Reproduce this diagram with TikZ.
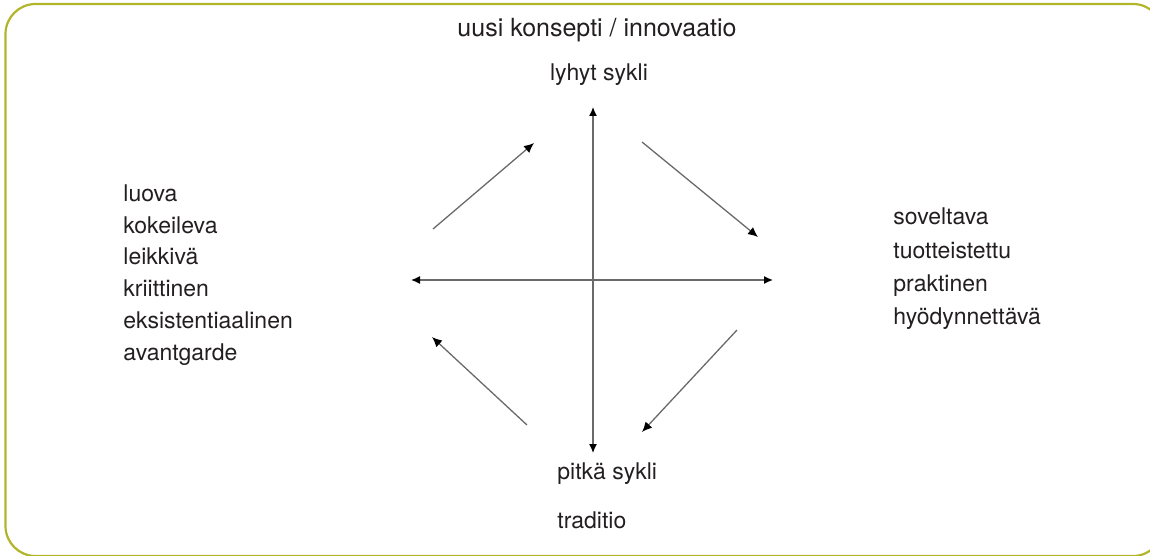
\documentclass[tikz,border=0pt]{standalone}
\usepackage{fontspec}
\setmainfont{TeX Gyre Heros}
\usepackage{xcolor}
\usetikzlibrary{arrows.meta, positioning}
\definecolor{cyFrame}{HTML}{B2B52A}
\definecolor{cyLine}{HTML}{6A6A6A}
\definecolor{cyText}{HTML}{231F20}
\tikzset{
  cyframe/.style={draw=cyFrame, line width=1.1pt, rounded corners=15pt},
  cylabel/.style={text=cyText, inner sep=0pt, font=\fontsize{11.5}{16}\selectfont},
  cylist/.style={cylabel, align=left, anchor=west},
  cyaxis/.style={draw=cyLine, line width=0.65pt,
    {Latex[length=4.5pt,width=4pt,color=black]}-{Latex[length=4.5pt,width=4pt,color=black]}},
  cyflow/.style={draw=cyLine, line width=0.65pt, -{Latex[length=5pt,width=4.5pt,color=black]}},
}

\begin{document}
\begin{tikzpicture}[x=0.5pt, y=-0.5pt]
\useasboundingbox (0,0) rectangle (1150,556);
\draw[cyframe] (5.5,4) rectangle (1163,556);

\node[cylabel, font=\fontsize{12.5}{16}\selectfont] (innov) at (597,30) {uusi konsepti / innovaatio};
\node[cylabel] (short) at (599,75) {lyhyt sykli};
\node[cylabel, anchor=west] (long) at (557,474) {pitkä sykli};
\node[cylabel, anchor=west] (trad) at (557,520) {traditio};
\node[cylist, font=\fontsize{11.5}{15.9}\selectfont] (art) at (123,275)
  {luova\\ kokeileva\\ leikkivä\\ kriittinen\\ eksistentiaalinen\\ avantgarde};
\node[cylist, font=\fontsize{11.5}{16.7}\selectfont] (appl) at (893,269)
  {soveltava\\ tuotteistettu\\ praktinen\\ hyödynnettävä};

\coordinate (top) at (593,107);
\coordinate (bot) at (593,453);
\coordinate (lft) at (411,280);
\coordinate (rgt) at (773,280);
\coordinate (ulA) at (433,229);
\coordinate (ulB) at (534,143);
\coordinate (urA) at (642,142);
\coordinate (urB) at (758,237);
\coordinate (lrA) at (737,330);
\coordinate (lrB) at (642,432);
\coordinate (llA) at (527,425);
\coordinate (llB) at (432,337);

\draw[cyaxis] (bot) -- (top);
\draw[cyaxis] (lft) -- (rgt);
\draw[cyflow] (ulA) -- (ulB);
\draw[cyflow] (urA) -- (urB);
\draw[cyflow] (lrA) -- (lrB);
\draw[cyflow] (llA) -- (llB);
\end{tikzpicture}
\end{document}
